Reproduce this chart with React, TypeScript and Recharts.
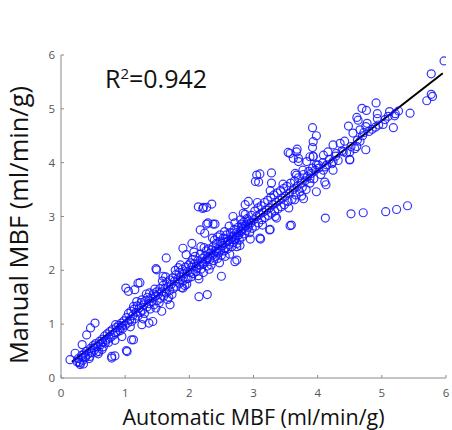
import React from 'react';
import { ScatterChart, Scatter, XAxis, YAxis, ReferenceLine } from 'recharts';

// Automatic MBF (x) vs Manual MBF (y), in ml/min/g
const lowRange: [number, number][] = [
  [0.14, 0.34], [0.28, 0.29], [0.30, 0.25], [0.22, 0.46], [0.33, 0.62], [0.40, 0.80], [0.46, 0.93], [0.53, 1.02],
  [0.38, 0.40], [0.51, 0.56], [0.59, 0.49], [0.79, 0.37], [0.84, 0.41], [1.03, 0.49], [1.13, 0.71], [0.69, 0.65],
  [0.64, 0.53], [0.95, 0.77], [0.92, 0.93], [1.26, 0.99], [1.37, 1.02], [0.85, 0.99], [1.02, 0.51], [0.79, 0.40],
  [1.10, 0.71], [1.43, 1.05],
  [0.25, 0.30], [0.27, 0.36], [0.30, 0.28], [0.32, 0.42], [0.34, 0.33], [0.36, 0.45], [0.38, 0.38], [0.40, 0.50],
  [0.42, 0.44], [0.44, 0.36], [0.46, 0.55], [0.48, 0.47], [0.50, 0.60], [0.52, 0.52], [0.54, 0.64], [0.56, 0.58],
  [0.58, 0.45], [0.60, 0.68], [0.62, 0.62], [0.64, 0.72], [0.66, 0.58], [0.68, 0.78], [0.70, 0.70], [0.72, 0.82],
  [0.74, 0.66], [0.76, 0.86], [0.78, 0.76], [0.80, 0.90], [0.82, 0.80], [0.84, 0.70], [0.86, 0.94], [0.88, 0.86],
  [0.90, 0.98], [0.92, 0.88], [0.94, 1.02], [0.96, 0.92], [0.98, 1.06], [1.00, 0.98], [0.35, 0.26], [0.45, 0.40],
  [0.55, 0.48], [0.65, 0.66], [0.75, 0.74], [0.85, 0.84], [0.95, 0.97],
];

const midLowRange: [number, number][] = [
  [1.02, 1.12], [1.04, 1.02], [1.05, 1.20], [1.07, 1.08], [1.09, 1.24], [1.10, 1.05], [1.12, 1.16], [1.14, 1.28],
  [1.15, 1.10], [1.17, 1.22], [1.19, 1.34], [1.20, 1.15], [1.22, 1.30], [1.24, 1.22], [1.25, 1.40], [1.27, 1.26],
  [1.29, 1.36], [1.30, 1.20], [1.32, 1.44], [1.34, 1.32], [1.35, 1.50], [1.37, 1.38], [1.39, 1.28], [1.40, 1.48],
  [1.42, 1.42], [1.44, 1.56], [1.45, 1.36], [1.47, 1.52], [1.49, 1.60], [1.50, 1.44], [1.52, 1.56], [1.54, 1.66],
  [1.55, 1.48], [1.57, 1.60], [1.59, 1.72], [1.60, 1.52], [1.62, 1.66], [1.64, 1.58], [1.65, 1.78], [1.67, 1.70],
  [1.69, 1.62], [1.70, 1.82], [1.72, 1.74], [1.74, 1.86], [1.75, 1.66], [1.77, 1.80], [1.79, 1.92], [1.80, 1.70],
  [1.82, 1.84], [1.84, 1.96], [1.85, 1.76], [1.87, 1.88], [1.89, 2.02], [1.90, 1.80], [1.92, 1.94], [1.94, 2.06],
  [1.95, 1.84], [1.97, 1.98], [1.99, 2.10],
  [1.08, 0.95], [1.18, 1.42], [1.28, 1.10], [1.38, 1.58], [1.48, 1.30], [1.58, 1.80], [1.68, 1.50], [1.78, 2.00],
  [1.88, 1.68], [1.98, 1.85], [1.13, 1.33], [1.33, 1.56], [1.53, 1.40], [1.63, 1.88], [1.73, 1.55], [1.83, 2.05],
  [1.93, 1.72], [1.26, 1.45], [1.46, 1.65], [1.66, 1.46], [1.86, 2.10], [1.96, 1.74],
  [1.01, 1.67], [1.05, 1.61], [1.23, 1.77], [1.49, 2.01], [1.64, 2.23], [1.48, 2.03], [1.20, 1.76], [1.15, 1.64],
  [1.59, 1.89], [1.70, 1.36], [1.57, 1.24], [1.90, 1.67], [1.90, 2.41], [1.95, 2.29],
];

const midHighRange: [number, number][] = [
  [2.01, 1.96], [2.02, 2.14], [2.03, 1.88], [2.04, 2.06], [2.05, 2.20], [2.06, 1.94], [2.08, 2.12], [2.09, 2.26],
  [2.10, 1.98], [2.12, 2.04], [2.13, 2.18], [2.14, 1.90], [2.16, 2.10], [2.17, 2.30], [2.18, 2.02], [2.20, 2.22],
  [2.21, 2.12], [2.22, 1.96], [2.24, 2.26], [2.25, 2.16], [2.26, 2.36], [2.28, 2.08], [2.29, 2.24], [2.30, 2.40],
  [2.32, 2.20], [2.33, 2.32], [2.34, 2.10], [2.36, 2.28], [2.37, 2.44], [2.38, 2.18], [2.40, 2.36], [2.41, 2.26],
  [2.42, 2.50], [2.44, 2.22], [2.45, 2.40], [2.46, 2.32], [2.48, 2.54], [2.49, 2.38], [2.50, 2.28], [2.52, 2.46],
  [2.53, 2.60], [2.54, 2.36], [2.56, 2.52], [2.57, 2.42], [2.58, 2.66], [2.60, 2.40], [2.61, 2.56], [2.62, 2.48],
  [2.64, 2.70], [2.65, 2.58], [2.66, 2.44], [2.68, 2.64], [2.69, 2.52], [2.70, 2.76], [2.72, 2.60], [2.73, 2.70],
  [2.74, 2.50], [2.76, 2.80], [2.77, 2.66], [2.78, 2.56], [2.80, 2.74], [2.81, 2.86], [2.82, 2.62], [2.84, 2.78],
  [2.85, 2.90], [2.86, 2.68], [2.88, 2.84], [2.89, 2.74], [2.90, 2.96], [2.92, 2.80], [2.93, 2.92], [2.94, 2.70],
  [2.96, 2.88], [2.97, 3.02], [2.98, 2.78],
  [2.07, 2.34], [2.15, 1.84], [2.23, 2.42], [2.31, 2.02], [2.39, 2.56], [2.47, 2.14], [2.55, 2.72], [2.63, 2.30],
  [2.71, 2.88], [2.79, 2.46], [2.87, 3.04], [2.95, 2.58], [2.11, 2.08], [2.27, 2.20], [2.35, 2.38], [2.43, 2.34],
  [2.51, 2.50], [2.59, 2.54], [2.67, 2.62], [2.75, 2.64], [2.83, 2.82], [2.91, 2.86], [2.19, 2.14], [2.44, 2.62],
  [2.62, 2.82], [2.80, 2.94], [2.18, 2.44], [2.36, 2.60], [2.56, 2.26], [2.74, 2.44],
  [2.04, 2.50], [2.17, 2.75], [2.29, 2.88], [2.40, 2.86], [2.27, 2.86], [2.37, 2.86], [2.50, 1.89], [2.15, 1.51],
  [2.28, 1.55], [2.74, 2.19], [2.71, 2.16], [2.92, 3.28], [2.87, 3.22], [2.84, 3.06], [2.68, 3.00], [2.81, 2.72],
  [2.71, 2.57], [2.48, 2.66], [2.24, 2.69],
  [2.14, 3.18], [2.21, 3.15], [2.27, 3.17], [2.35, 3.23], [2.22, 3.17],
];

const highRange: [number, number][] = [
  [3.00, 2.94], [3.02, 3.10], [3.03, 2.82], [3.05, 3.00], [3.07, 3.16], [3.08, 2.88], [3.10, 3.04], [3.12, 3.20],
  [3.13, 2.94], [3.15, 3.08], [3.17, 3.26], [3.18, 2.98], [3.20, 3.12], [3.22, 3.30], [3.23, 3.02], [3.25, 3.16],
  [3.27, 3.36], [3.28, 3.06], [3.30, 3.22], [3.32, 3.40], [3.33, 3.10], [3.35, 3.26], [3.37, 3.44], [3.38, 3.14],
  [3.40, 3.30], [3.42, 3.48], [3.43, 3.18], [3.45, 3.34], [3.47, 3.52], [3.48, 3.22], [3.50, 3.38], [3.52, 3.56],
  [3.54, 3.28], [3.56, 3.44], [3.58, 3.62], [3.60, 3.32], [3.62, 3.50], [3.64, 3.66], [3.66, 3.40], [3.68, 3.56],
  [3.70, 3.72], [3.72, 3.46], [3.74, 3.62], [3.76, 3.54], [3.78, 3.78], [3.80, 3.66], [3.82, 3.50], [3.84, 3.74],
  [3.86, 3.84], [3.88, 3.62], [3.90, 3.80], [3.92, 3.90], [3.94, 3.70], [3.96, 3.86], [3.98, 3.96],
  [3.06, 3.26], [3.14, 2.84], [3.26, 3.48], [3.34, 3.00], [3.46, 3.60], [3.55, 3.16], [3.65, 3.80], [3.75, 3.38],
  [3.10, 3.79], [3.08, 3.64], [3.28, 3.81], [3.28, 3.62], [3.03, 3.65], [3.05, 3.77], [3.54, 4.19], [3.67, 4.20],
  [3.70, 4.08], [3.93, 4.11], [3.88, 4.11], [3.78, 3.33], [3.64, 3.31], [3.59, 2.84], [3.57, 2.83], [3.26, 2.76],
  [3.11, 2.58], [3.25, 2.75], [3.10, 2.60], [3.36, 2.97], [3.98, 3.46], [3.62, 4.08], [3.70, 4.02], [3.57, 4.17],
  [3.67, 3.77], [3.88, 3.71], [3.83, 4.02], [3.77, 3.86], [3.92, 4.65], [3.98, 4.50], [3.93, 4.39], [3.92, 4.28],
  [3.68, 4.25], [3.93, 4.12],
];

const topRange: [number, number][] = [
  [4.02, 3.90], [4.05, 3.78], [4.08, 4.00], [4.12, 3.92], [4.18, 4.06], [4.22, 3.98], [4.28, 4.12], [4.32, 4.04],
  [4.38, 4.22], [4.45, 4.18], [4.52, 4.30], [4.58, 4.26], [4.62, 4.42], [4.70, 4.50], [4.80, 4.58], [4.85, 4.62],
  [4.95, 4.70], [5.05, 4.80], [5.10, 4.86],
  [4.13, 3.59], [4.11, 3.64], [4.50, 4.06], [4.75, 4.24], [4.50, 4.05], [4.55, 4.55], [4.42, 4.40], [4.35, 4.36],
  [4.24, 4.33], [4.50, 4.20], [4.66, 4.40], [4.61, 4.30], [4.29, 4.17], [4.16, 4.20], [4.09, 4.14], [4.24, 4.02],
  [4.40, 4.20], [4.14, 3.96], [4.01, 3.96], [4.09, 3.86], [4.24, 3.86], [4.61, 4.84], [4.63, 4.79], [4.48, 4.68],
  [4.77, 4.73], [4.75, 4.67], [4.72, 4.56], [4.66, 4.61], [4.69, 5.01], [4.76, 4.97], [4.91, 5.11], [4.93, 4.91],
  [4.93, 4.82], [5.02, 4.71], [4.90, 4.66], [5.12, 4.95], [5.21, 4.91], [5.20, 4.87], [5.26, 4.96], [5.18, 4.65],
  [5.44, 4.92], [5.70, 5.15], [5.77, 5.27], [5.79, 5.23], [5.77, 5.65], [5.97, 5.89],
];

const outliers: [number, number][] = [
  [4.12, 2.97], [4.52, 3.05], [4.71, 3.07], [5.06, 3.09], [5.23, 3.13], [5.40, 3.20],
];

const fitStart = { x: 0.17, y: 0.3 };
const fitEnd = { x: 5.95, y: 5.66 };

const axisTicks = [0, 1, 2, 3, 4, 5, 6];
const xTitle = 'Automatic MBF (ml/min/g)';
const yTitle = 'Manual MBF (ml/min/g)';
const rSquared = '0.942';

const points = [...lowRange, ...midLowRange, ...midHighRange, ...highRange, ...topRange, ...outliers].map(
  ([x, y]) => ({ x, y })
);

const FONT = '"Open Sans", sans-serif';
const AXIS_COLOR = '#8a8a8a';
const TICK_COLOR = '#555';

const Ring = (props: any) => {
  const { cx, cy } = props;
  if (cx == null || cy == null) return null;
  return <circle cx={cx} cy={cy} r={4} fill="none" stroke="#1010ff" strokeWidth={1.2} strokeOpacity={0.85} />;
};

const XTick = (props: any) => {
  const { x, y, payload } = props;
  return (
    <g>
      <line x1={x} y1={y} x2={x} y2={y - 3} stroke={AXIS_COLOR} strokeWidth={1} />
      <text x={x} y={y + 19} textAnchor="middle" fontSize={11.5} fill={TICK_COLOR} fontFamily={FONT}>
        {payload.value}
      </text>
    </g>
  );
};

const YTick = (props: any) => {
  const { x, y, payload } = props;
  return (
    <g>
      <line x1={x} y1={y} x2={x + 3} y2={y} stroke={AXIS_COLOR} strokeWidth={1} />
      <text x={x - 6} y={y + 4} textAnchor="end" fontSize={11.5} fill={TICK_COLOR} fontFamily={FONT}>
        {payload.value}
      </text>
    </g>
  );
};

export default function App() {
  return (
    <div style={{ position: 'absolute', left: 0, top: 0, width: 452, height: 430, background: '#fff' }}>
      <ScatterChart width={452} height={430} margin={{ top: 55, right: 6, bottom: 22, left: 21 }}>
        <XAxis
          type="number"
          dataKey="x"
          domain={[0, 6]}
          ticks={axisTicks}
          tickSize={0}
          tickMargin={0}
          height={30}
          axisLine={{ stroke: AXIS_COLOR }}
          tickLine={false}
          tick={<XTick />}
          allowDataOverflow
        />
        <YAxis
          type="number"
          dataKey="y"
          domain={[0, 6]}
          ticks={axisTicks}
          tickSize={0}
          tickMargin={0}
          width={40}
          axisLine={{ stroke: AXIS_COLOR }}
          tickLine={false}
          tick={<YTick />}
          allowDataOverflow
        />
        <Scatter data={points} shape={<Ring />} isAnimationActive={false} />
        <ReferenceLine
          segment={[fitStart, fitEnd]}
          stroke="#000"
          strokeWidth={2}
          ifOverflow="visible"
        />
        <text x={253.5} y={425} textAnchor="middle" fontSize={21.5} fill="#111" fontFamily={FONT}>
          {xTitle}
        </text>
        <text
          x={28}
          y={225}
          textAnchor="middle"
          fontSize={25.5}
          fill="#111"
          fontFamily={FONT}
          transform="rotate(-90 28 225)"
        >
          {yTitle}
        </text>
        <text x={105} y={88} fontSize={25} fill="#111" fontFamily={FONT}>
          R
          <tspan dy={-9} fontSize={15}>2</tspan>
          <tspan dy={9}>={rSquared}</tspan>
        </text>
      </ScatterChart>
    </div>
  );
}
